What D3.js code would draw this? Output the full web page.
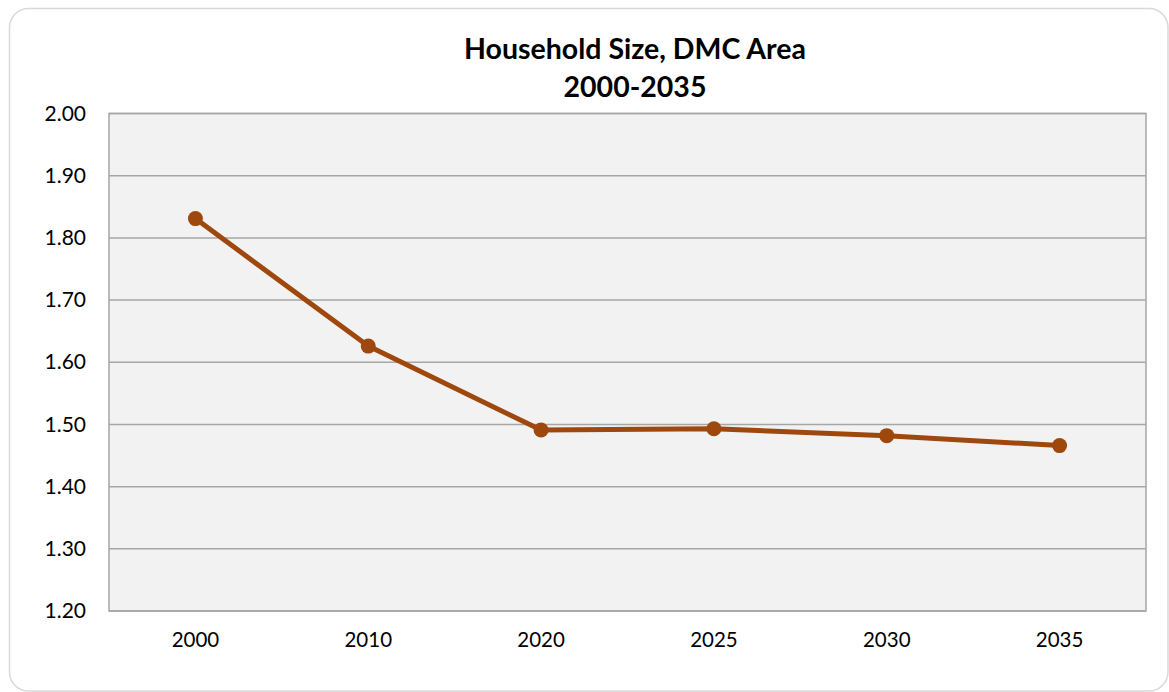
<!DOCTYPE html>
<html>
<head>
<meta charset="utf-8">
<script src="https://cdn.jsdelivr.net/npm/d3@7"></script>
<style>
  html, body { margin: 0; padding: 0; background: #ffffff; }
  svg { display: block; }
  text { font-family: Lato, "Open Sans", sans-serif; fill: #000; }
</style>
</head>
<body>
<svg id="chart" width="1169" height="692"></svg>
<script>
// Household size by year, DMC Area
const years = ["2000", "2010", "2020", "2025", "2030", "2035"];
const householdSize = [1.831, 1.626, 1.491, 1.493, 1.482, 1.466];
const yTicks = [1.2, 1.3, 1.4, 1.5, 1.6, 1.7, 1.8, 1.9, 2.0];
const titleLines = ["Household Size, DMC Area", "2000-2035"];

const svg = d3.select("#chart");
const W = 1169, H = 692;
const plot = { left: 109, top: 113.5, right: 1146, bottom: 611 };

// Outer chart frame
svg.append("rect")
  .attr("x", 9.5).attr("y", 8.5)
  .attr("width", W - 10.5).attr("height", H - 9.5)
  .attr("rx", 19).attr("ry", 19)
  .attr("fill", "#ffffff")
  .attr("stroke", "#d9d9d9").attr("stroke-width", 1.5);

const x = d3.scaleBand().domain(years).range([plot.left, plot.right]);
const y = d3.scaleLinear().domain([1.2, 2.0]).range([plot.bottom, plot.top]);

// Plot area background
svg.append("rect")
  .attr("x", plot.left).attr("y", plot.top)
  .attr("width", plot.right - plot.left).attr("height", plot.bottom - plot.top)
  .attr("fill", "#f2f2f2");

// Horizontal gridlines
svg.append("g").selectAll("line").data(yTicks).join("line")
  .attr("x1", plot.left).attr("x2", plot.right)
  .attr("y1", d => y(d)).attr("y2", d => y(d))
  .attr("stroke", "#a6a6a6").attr("stroke-width", 1.5);

// Plot border
svg.append("rect")
  .attr("x", plot.left).attr("y", plot.top)
  .attr("width", plot.right - plot.left).attr("height", plot.bottom - plot.top)
  .attr("fill", "none")
  .attr("stroke", "#a6a6a6").attr("stroke-width", 1.5);

// Y axis labels
const yAxis = d3.axisLeft(y).tickValues(yTicks).tickFormat(d3.format(".2f")).tickSize(0).tickPadding(23);
const gy = svg.append("g").attr("transform", `translate(${plot.left},0)`).call(yAxis);
gy.select(".domain").remove();
gy.selectAll("text").style("font-size", "21px").style("font-family", "Lato, sans-serif").attr("fill", "#000");

// X axis labels
const xAxis = d3.axisBottom(x).tickSize(0).tickPadding(21);
const gx = svg.append("g").attr("transform", `translate(0,${plot.bottom})`).call(xAxis);
gx.select(".domain").remove();
gx.selectAll("text").style("font-size", "20.5px").style("font-family", "Lato, sans-serif").attr("fill", "#000");

// Series line and markers
const cx = d => x(d) + x.bandwidth() / 2;
const pts = years.map((yr, i) => ({ yr, v: householdSize[i] }));
svg.append("path")
  .datum(pts)
  .attr("d", d3.line().x(d => cx(d.yr)).y(d => y(d.v)))
  .attr("fill", "none")
  .attr("stroke", "#9e480e").attr("stroke-width", 5)
  .attr("stroke-linejoin", "round").attr("stroke-linecap", "round");
svg.append("g").selectAll("circle").data(pts).join("circle")
  .attr("cx", d => cx(d.yr)).attr("cy", d => y(d.v))
  .attr("r", 7.5).attr("fill", "#9e480e");

// Title
svg.append("text")
  .attr("x", 635).attr("y", 59)
  .attr("text-anchor", "middle")
  .style("font-size", "28.5px").style("font-weight", "bold")
  .selectAll("tspan").data(titleLines).join("tspan")
  .attr("x", 635).attr("dy", (d, i) => i === 0 ? 0 : 38)
  .text(d => d);
</script>
</body>
</html>
